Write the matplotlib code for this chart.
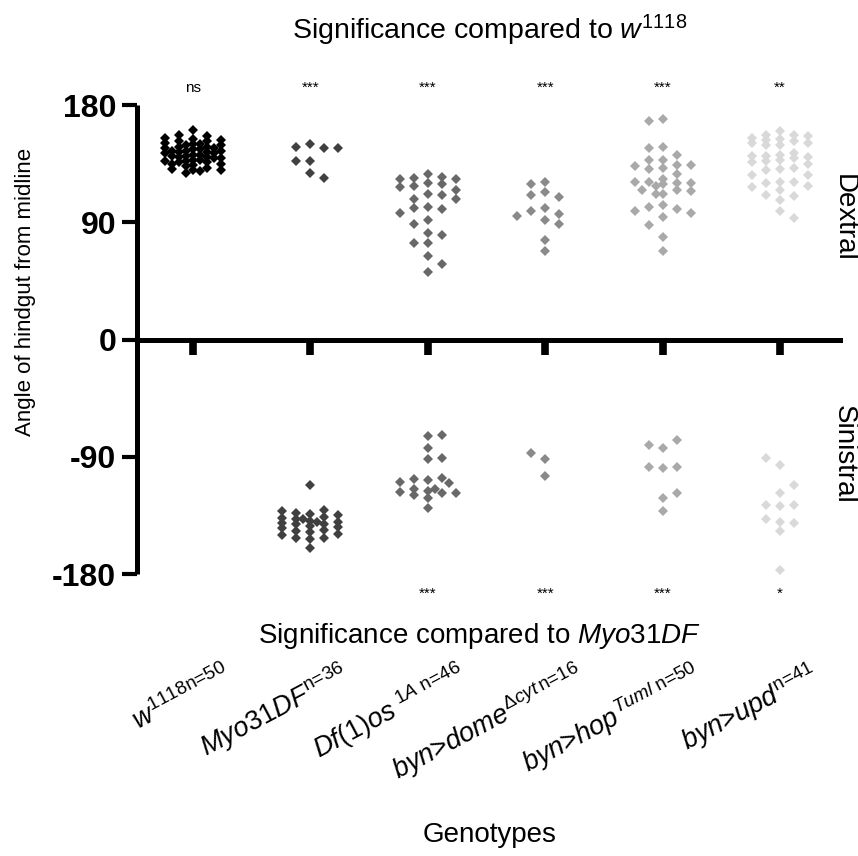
import numpy as np
import matplotlib
matplotlib.use("Agg")
import matplotlib.pyplot as plt
from matplotlib import transforms

plt.rcParams["font.family"] = ["Liberation Sans", "DejaVu Sans"]
plt.rcParams["mathtext.fontset"] = "custom"
plt.rcParams["mathtext.rm"] = "Liberation Sans"
plt.rcParams["mathtext.it"] = "Liberation Sans:italic"
plt.rcParams["mathtext.bf"] = "Liberation Sans:bold"

# ---- data: hindgut angle (degrees) per embryo, grouped by genotype ----
genotype_labels = [
    r"$\mathit{w}^{\mathit{1118}\text{n=50}}$",
    r"$\mathit{Myo31DF}^{\text{n=36}}$",
    r"$\mathit{Df(1)os}^{\ \mathit{1A}\ \text{n=46}}$",
    r"$\mathit{byn}\mathit{\text{>}}\mathit{dome}^{\mathit{\Delta cyt}\,\text{n=16}}$",
    r"$\mathit{byn}\mathit{\text{>}}\mathit{hop}^{\mathit{Tuml}\ \text{n=50}}$",
    r"$\mathit{byn}\mathit{\text{>}}\mathit{upd}^{\text{n=41}}$",
]
sig_vs_w1118 = ["ns", "***", "***", "***", "***", "**"]
sig_vs_myo31df = ["", "", "***", "***", "***", "*"]
point_colors = ["#000000", "#404040", "#686868", "#8a8a8a", "#a9a9a9", "#d9d9d9"]

w1118 = [161, 157, 156, 155, 154, 153, 152, 152, 151, 150, 150, 149, 149, 148,
         148, 147, 147, 146, 146, 145, 145, 145, 144, 144, 143, 143, 142, 142,
         141, 141, 140, 140, 139, 139, 138, 138, 137, 137, 136, 136, 135, 135,
         134, 133, 132, 131, 130, 130, 129, 128]
myo31df = [150, 148, 147, 147, 137, 137, 128, 124,
           -112, -131, -132, -133, -134, -135, -136, -137, -138, -138, -139,
           -140, -140, -141, -142, -142, -143, -144, -145, -146, -147, -148,
           -149, -150, -152, -152, -153, -160]
df1os = [127, 125, 124, 123, 123, 120, 119, 118, 117, 115, 112, 111, 108, 108,
         102, 101, 100, 97, 92, 89, 82, 80, 74, 74, 64, 58, 52,
         -73, -74, -83, -91, -92, -106, -107, -108, -109, -110, -115, -115,
         -116, -117, -118, -118, -119, -122, -129]
dome_dcyt = [121, 119, 113, 111, 109, 101, 99, 96, 95, 92, 89, 76, 68,
             -87, -92, -105]
hop_tuml = [169, 168, 148, 147, 142, 138, 138, 134, 134, 133, 132, 131, 127,
            123, 121, 121, 120, 120, 119, 118, 115, 115, 114, 112, 112, 103,
            102, 100, 99, 97, 94, 88, 79, 68,
            -77, -81, -83, -98, -98, -99, -118, -122, -132]
upd = [160, 157, 157, 156, 155, 154, 153, 152, 151, 151, 149, 149, 143, 142,
       141, 141, 140, 139, 138, 137, 136, 135, 132, 131, 130, 126, 126, 121,
       121, 120, 118, 117, 115, 111, 110, 107, 99, 93,
       -91, -96, -112, -118, -127, -127, -128, -138, -140, -141, -147, -177]

groups = [w1118, myo31df, df1os, dome_dcyt, hop_tuml, upd]

W, H, DPI = 858, 856, 100
fig = plt.figure(figsize=(W / DPI, H / DPI), dpi=DPI)
ax = fig.add_axes([137 / W, 1 - 574 / H, (840 - 137) / W, (574 - 105) / H])
ax.set_xlim(-0.477, 5.51)
ax.set_ylim(-180, 180)

# pixel scale of the axes, used to lay out the dot columns
bbox = ax.get_window_extent()
px_per_x = bbox.width / (5.51 + 0.477)
px_per_y = bbox.height / 360.0


def column_offsets(values, step_px=7.0, sep_x=12.0, sep_y=8.0, max_steps=4):
    """Spread points sideways inside a fixed column width (dot-plot style).
    When a row is full, the point goes where it overlaps least."""
    vals = np.asarray(values, dtype=float)
    offs = np.zeros(len(vals))
    placed = []
    for n, i in enumerate(np.argsort(-np.abs(vals), kind="stable")):
        sign = 1 if n % 2 == 0 else -1
        cands = [0.0]
        for j in range(1, max_steps + 1):
            cands += [sign * j * step_px, -sign * j * step_px]
        y = vals[i] * px_per_y
        best, best_d = cands[0], -1.0
        for c in cands:
            d = min((max(abs(c - px) / sep_x, abs(y - py) / sep_y)
                     for px, py in placed), default=1e9)
            if d >= 1.0:
                best = c
                break
            if d > best_d:
                best, best_d = c, d
        placed.append((best, y))
        offs[i] = best
    return offs / px_per_x


for gi, (vals, col) in enumerate(zip(groups, point_colors)):
    xo = column_offsets(vals)
    ax.plot(gi + xo, vals, linestyle="none", marker="D", markersize=4.8,
            markerfacecolor=col, markeredgewidth=0, zorder=3)

# axes styling
for side in ("top", "right"):
    ax.spines[side].set_visible(False)
ax.spines["left"].set_linewidth(3.6)
ax.spines["bottom"].set_linewidth(3.6)
ax.spines["bottom"].set_position(("data", 0))
ax.spines["left"].set_capstyle("butt")
ax.set_yticks([-180, -90, 0, 90, 180])
ax.set_yticklabels(["-180", "-90", "0", "90", "180"], fontsize=23,
                   fontweight="bold")
ax.tick_params(axis="y", direction="out", length=11, width=3, pad=4)
ax.set_xticks(range(6))
ax.tick_params(axis="x", direction="out", length=11, width=5.5,
               labelbottom=False)

# significance marks above and below each genotype
tr_top = transforms.blended_transform_factory(ax.transData, fig.transFigure)
for gi, s in enumerate(sig_vs_w1118):
    ax.text(gi, 1 - 88 / H, s, transform=tr_top, ha="center", va="center",
            fontsize=11)
for gi, s in enumerate(sig_vs_myo31df):
    if s:
        ax.text(gi, 1 - 594 / H, s, transform=tr_top, ha="center",
                va="center", fontsize=11)

# genotype names, rotated
for gi, lab in enumerate(genotype_labels):
    ax.text(gi + 0.34, 1 - 680 / H, lab, transform=tr_top, rotation=28,
            rotation_mode="anchor", ha="right", va="baseline", fontsize=19.5)

fig.text(490 / W, 1 - 30 / H,
         r"Significance compared to $\mathit{w}^{\mathit{1118}}$",
         ha="center", va="center", fontsize=20.5)
fig.text(479 / W, 1 - 636 / H,
         r"Significance compared to $\mathit{Myo31DF}$",
         ha="center", va="center", fontsize=20)
fig.text(490 / W, 1 - 835 / H, "Genotypes", ha="center", va="center",
         fontsize=20)
fig.text(26 / W, 1 - 292 / H, "Angle of hindgut from midline", rotation=90,
         ha="center", va="center", fontsize=16)
fig.text(844 / W, 1 - 218 / H, "Dextral", rotation=-90, ha="center",
         va="center", fontsize=20)
fig.text(844 / W, 1 - 454 / H, "Sinistral", rotation=-90, ha="center",
         va="center", fontsize=20)

fig.savefig("out.png", dpi=DPI)
